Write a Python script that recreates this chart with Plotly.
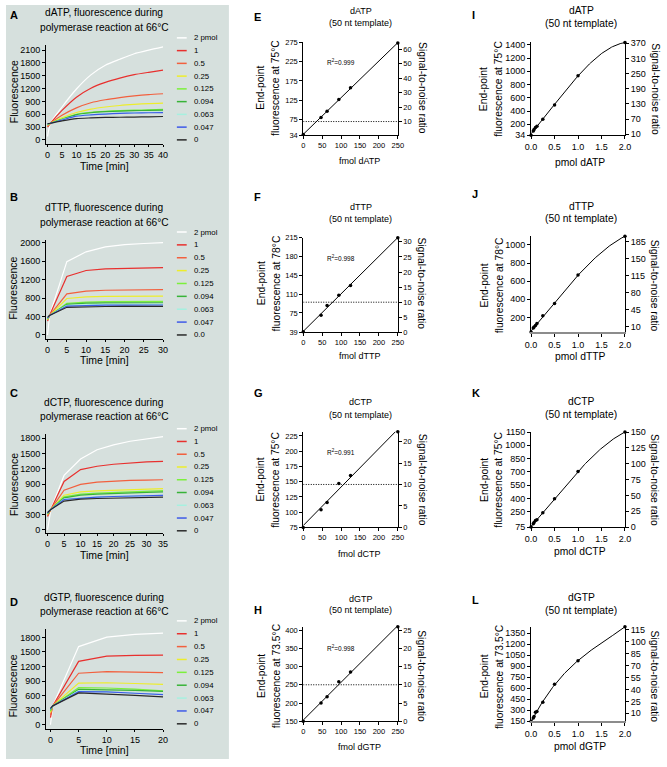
import numpy as np
import plotly.graph_objects as go

W, H = 667, 767
FONT = "Liberation Sans, Arial, sans-serif"

# ======================= DATA =======================
legend_labels_A = ["2 pmol", "1", "0.5", "0.25", "0.125", "0.094", "0.063", "0.047", "0"]
legend_labels_B = ["2 pmol", "1", "0.5", "0.25", "0.125", "0.094", "0.063", "0.047", "0.0"]

# A: dATP kinetics
time_A = [0, 1, 5, 10, 15, 20, 25, 30, 35, 40]
A_2pmol = [80, 390, 770, 1190, 1520, 1745, 1885, 2015, 2100, 2175]
A_1 = [300, 390, 690, 1000, 1210, 1345, 1445, 1525, 1580, 1630]
A_05 = [330, 390, 577, 750, 870, 940, 990, 1030, 1060, 1080]
A_025 = [340, 390, 520, 640, 720, 770, 805, 830, 850, 860]
A_0125 = [350, 390, 490, 600, 645, 670, 685, 695, 705, 712]
A_0094 = [360, 390, 480, 590, 635, 660, 675, 685, 690, 695]
A_0063 = [370, 390, 470, 560, 590, 615, 630, 640, 645, 650]
A_0047 = [375, 390, 465, 555, 585, 605, 620, 630, 635, 640]
A_0 = [380, 390, 446, 500, 515, 525, 530, 535, 540, 548]

# B: dTTP kinetics
time_B = [0, 0.5, 5, 10, 15, 20, 25, 30]
B_2pmol = [0, 420, 1587, 1800, 1907, 1957, 1980, 2000]
B_1 = [300, 420, 1267, 1395, 1430, 1445, 1452, 1459]
B_05 = [320, 420, 890, 947, 968, 975, 980, 982]
B_025 = [330, 420, 790, 826, 835, 838, 840, 840]
B_0125 = [340, 420, 683, 712, 720, 724, 726, 726]
B_0094 = [350, 420, 662, 690, 695, 697, 697, 697]
B_0063 = [360, 420, 640, 655, 660, 662, 662, 662]
B_0047 = [370, 420, 626, 640, 645, 647, 648, 648]
B_00 = [380, 420, 598, 612, 616, 618, 619, 619]

# C: dCTP kinetics
time_C = [0, 1, 5, 10, 15, 20, 25, 30, 35]
C_2pmol = [0, 400, 1069, 1392, 1574, 1671, 1742, 1794, 1833]
C_1 = [260, 400, 952, 1185, 1250, 1289, 1314, 1334, 1347]
C_05 = [280, 400, 777, 894, 939, 958, 970, 978, 984]
C_025 = [300, 400, 680, 745, 765, 777, 790, 800, 810]
C_0125 = [310, 400, 648, 700, 720, 735, 750, 760, 770]
C_0094 = [320, 400, 628, 680, 700, 715, 725, 735, 745]
C_0063 = [330, 400, 602, 630, 648, 660, 668, 675, 680]
C_0047 = [330, 400, 596, 625, 642, 655, 665, 672, 678]
C_0 = [340, 400, 564, 602, 615, 625, 632, 637, 641]

# D: dGTP kinetics
time_D = [0, 0.4, 5, 10, 15, 20]
D_2pmol = [0, 390, 1610, 1806, 1860, 1888]
D_1 = [150, 390, 1306, 1414, 1428, 1434]
D_05 = [200, 390, 1062, 1096, 1085, 1076]
D_025 = [250, 390, 860, 866, 850, 832]
D_0125 = [280, 390, 765, 758, 735, 700]
D_0094 = [300, 390, 730, 724, 707, 690]
D_0063 = [320, 390, 697, 680, 655, 629]
D_0047 = [330, 390, 683, 676, 650, 622]
D_0 = [340, 390, 656, 636, 605, 575]

# kinetic axis ticks
A_yticks = [0, 300, 600, 900, 1200, 1500, 1800, 2100]
B_yticks = [0, 400, 800, 1200, 1600, 2000]
C_yticks = [0, 300, 600, 900, 1200, 1500, 1800]
D_yticks = [0, 300, 600, 900, 1200, 1500, 1800]
A_xticks = [0, 5, 10, 15, 20, 25, 30, 35, 40]
B_xticks = [0, 5, 10, 15, 20, 25, 30]
C_xticks = [0, 5, 10, 15, 20, 25, 30, 35]
D_xticks = [0, 5, 10, 15, 20]

# E-H: end-point fluorescence vs fmol
fmol_x = [0, 47, 63, 94, 125, 250]
E_fluor = [36, 80, 96, 127, 157, 273]
F_fluor = [40, 71, 89, 108, 126, 215]
G_fluor = [75, 104, 116, 147, 160, 232]
H_fluor = [150, 200, 217, 258, 285, 409]
E_r2, F_r2, G_r2, H_r2 = "0.999", "0.998", "0.991", "0.998"
snr_threshold = 10

E_lticks = [34, 75, 125, 175, 225, 275]
E_rticks = [10, 20, 30, 40, 50, 60]
F_lticks = [39, 75, 110, 145, 180, 215]
F_rticks = [0, 5, 10, 15, 20, 25, 30]
G_lticks = [75, 100, 125, 150, 175, 200, 225]
G_rticks = [0, 5, 10, 15, 20]
H_lticks = [150, 200, 250, 300, 350, 400]
H_rticks = [0, 5, 10, 15, 20, 25]
fmol_xticks = [0, 50, 100, 150, 200, 250]

# I-L: end-point fluorescence vs pmol
pmol_x = [0, 0.047, 0.063, 0.094, 0.125, 0.25, 0.5, 1, 2]
I_fluor = [34, 100, 120, 150, 170, 275, 490, 935, 1435]
J_fluor = [39, 84, 95, 113, 135, 218, 353, 669, 1095]
K_fluor = [75, 112, 127, 150, 157, 236, 397, 705, 1150]
L_fluor = [150, 195, 213, 271, 284, 410, 652, 974, 1435]

I_lticks = [34, 200, 400, 600, 800, 1000, 1200, 1400]
I_rticks = [10, 70, 130, 190, 250, 310, 370]
J_lticks = [200, 400, 600, 800, 1000]
J_rticks = [10, 45, 80, 115, 150, 185]
K_lticks = [75, 250, 400, 550, 700, 850, 1000, 1150]
K_rticks = [0, 25, 50, 75, 100, 125, 150]
L_lticks = [150, 300, 450, 600, 750, 900, 1050, 1200, 1350]
L_rticks = [10, 25, 40, 55, 70, 85, 100, 115]
pmol_xticks = [0, 0.5, 1.0, 1.5, 2.0]

# ======================= STYLE =======================
series_colors = ["#ffffff", "#e8302e", "#f2603e", "#eded2c", "#7cf03c",
                 "#38b338", "#a6f0df", "#3e5ae8", "#2a2a2a"]
GRAY_BG = "#d6e0dd"


def xd(a, b):
    return [a / W, b / W]


def yd(top, bottom):
    return [1 - bottom / H, 1 - top / H]


def px(x):
    return x / W


def py(y):
    return 1 - y / H


def axis_style(fs, ticklen=3):
    return dict(showline=True, linecolor="black", linewidth=1, ticks="outside",
                ticklen=ticklen, tickwidth=1, tickcolor="black", showgrid=False,
                zeroline=False, mirror=False,
                tickfont=dict(size=fs, color="black", family=FONT))


fig = go.Figure()
layout = {}
annotations = []
shapes = []


def ann(x, y, text, size, angle=0, xanchor="center", bold=False, **kw):
    if bold:
        text = "<b>" + text + "</b>"
    d = dict(x=px(x), y=py(y), xref="paper", yref="paper", text=text,
             showarrow=False, textangle=angle, xanchor=xanchor, yanchor="middle",
             font=dict(size=size, color="black", family=FONT))
    d.update(kw)
    annotations.append(d)


def axname(kind, n):
    return kind + ("" if n == 1 else str(n))


# background for left column
shapes.append(dict(type="rect", xref="paper", yref="paper", x0=0, x1=px(227),
                   y0=py(764), y1=1, fillcolor=GRAY_BG, line=dict(width=0),
                   layer="below"))

# ---------------- kinetic panels ----------------
kin = [
    dict(n=1, letter="A", nuc="dATP", t=time_A,
         s=[A_2pmol, A_1, A_05, A_025, A_0125, A_0094, A_0063, A_0047, A_0],
         labels=legend_labels_A, dom=(40.7, 140.7), yr=(-92, 2215), xr=(-0.55, 40),
         yt=A_yticks, xt=A_xticks, ly=10, t1=7.3, t2=23.3, yty=88, xty=163,
         lg0=33.3, lgs=12.92, shape="spline"),
    dict(n=2, letter="B", nuc="dTTP", t=time_B,
         s=[B_2pmol, B_1, B_05, B_025, B_0125, B_0094, B_0063, B_0047, B_00],
         labels=legend_labels_B, dom=(237.7, 338.3), yr=(-85, 2064), xr=(-0.42, 30),
         yt=B_yticks, xt=B_xticks, ly=195, t1=205, t2=220, yty=287, xty=360,
         lg0=230, lgs=13.04, shape="linear"),
    dict(n=3, letter="C", nuc="dCTP", t=time_C,
         s=[C_2pmol, C_1, C_05, C_025, C_0125, C_0094, C_0063, C_0047, C_0],
         labels=legend_labels_A, dom=(435, 535.3), yr=(-70, 1878), xr=(-0.48, 35),
         yt=C_yticks, xt=C_xticks, ly=393, t1=402.7, t2=417.3, yty=486, xty=557.5,
         lg0=429.3, lgs=12.93, shape="linear"),
    dict(n=4, letter="D", nuc="dGTP", t=time_D,
         s=[D_2pmol, D_1, D_05, D_025, D_0125, D_0094, D_0063, D_0047, D_0],
         labels=legend_labels_A, dom=(632.7, 733.3), yr=(-81, 1963), xr=(-0.8, 20),
         yt=D_yticks, xt=D_xticks, ly=605, t1=600, t2=615, yty=690, xty=755,
         lg0=624, lgs=13.04, shape="linear"),
]

for p in kin:
    n = p["n"]
    for vals, col in zip(p["s"], series_colors):
        fig.add_trace(go.Scatter(x=p["t"], y=vals, mode="lines",
                                 line=dict(color=col, width=1.2, shape=p["shape"], smoothing=0.6),
                                 xaxis=axname("x", n), yaxis=axname("y", n),
                                 showlegend=False, hoverinfo="skip"))
    xa = axis_style(9, ticklen=2)
    xa.update(domain=xd(40.7, 160), range=list(p["xr"]), tickvals=p["xt"],
              anchor=axname("y", n))
    ya = axis_style(9)
    ya.update(domain=yd(*p["dom"]), range=list(p["yr"]), tickvals=p["yt"],
              anchor=axname("x", n))
    layout[axname("xaxis", n)] = xa
    layout[axname("yaxis", n)] = ya
    ann(2, p["ly"], p["letter"], 11, xanchor="left", bold=True)
    ann(100, p["t1"], p["nuc"] + ", fluorescence during", 10.2)
    ann(100, p["t2"], "polymerase reaction at 66°C", 10.2)
    ann(7.5, p["yty"], "Fluorescence", 10.5, angle=-90)
    ann(100, p["xty"], "Time [min]", 10.5)
    for i, (lab, col) in enumerate(zip(p["labels"], series_colors)):
        yy = p["lg0"] + i * p["lgs"]
        shapes.append(dict(type="line", xref="paper", yref="paper",
                           x0=px(174), x1=px(184), y0=py(yy), y1=py(yy),
                           line=dict(color=col, width=1.5)))
        ann(189, yy, lab, 7.8, xanchor="left")

# ---------------- linear calibration panels E-H ----------------
cal = [
    dict(n=5, r=13, letter="E", nuc="dATP", temp="75°C", y=E_fluor, r2=E_r2,
         dom=(37, 132), yr=(34, 277), yr2=(0.5, 65.3), lt=E_lticks, rt=E_rticks,
         ly=11.7, t1=6, t2=18.3, yc=84, xty=157.7, r2y=223),
    dict(n=6, r=14, letter="F", nuc="dTTP", temp="78°C", y=F_fluor, r2=F_r2,
         dom=(235.7, 331.7), yr=(39, 215), yr2=(0, 31.4), lt=F_lticks, rt=F_rticks,
         ly=195, t1=205, t2=216.7, yc=282, xty=355.7, r2y=178),
    dict(n=7, r=15, letter="G", nuc="dCTP", temp="75°C", y=G_fluor, r2=G_r2,
         dom=(432.3, 529.3), yr=(75, 232), yr2=(0, 22.3), lt=G_lticks, rt=G_rticks,
         ly=393.3, t1=402.7, t2=415, yc=481, xty=556.7, r2y=199),
    dict(n=8, r=16, letter="H", nuc="dGTP", temp="73.5°C", y=H_fluor, r2=H_r2,
         dom=(630, 725.7), yr=(150, 409), yr2=(0, 25.9), lt=H_lticks, rt=H_rticks,
         ly=613.3, t1=601.7, t2=613.3, yc=680, xty=751.7, r2y=351),
]

for p in cal:
    n, r = p["n"], p["r"]
    coef = np.polyfit(fmol_x, p["y"], 1)
    xf = np.array([min(fmol_x), max(fmol_x)])
    fig.add_trace(go.Scatter(x=xf, y=np.polyval(coef, xf), mode="lines",
                             line=dict(color="black", width=1),
                             xaxis=axname("x", n), yaxis=axname("y", n),
                             showlegend=False, hoverinfo="skip"))
    fig.add_trace(go.Scatter(x=fmol_x, y=p["y"], mode="markers",
                             marker=dict(color="black", size=3.5),
                             xaxis=axname("x", n), yaxis=axname("y", n),
                             cliponaxis=False, showlegend=False, hoverinfo="skip"))
    fig.add_trace(go.Scatter(x=[min(fmol_x), max(fmol_x)], y=[snr_threshold, snr_threshold],
                             mode="lines", line=dict(color="black", width=1, dash="1px,1.5px"),
                             xaxis=axname("x", n), yaxis=axname("y", r),
                             showlegend=False, hoverinfo="skip"))
    xa = axis_style(7.5)
    xa.update(domain=xd(302.7, 399), range=[0, 250], tickvals=fmol_xticks,
              anchor=axname("y", n))
    ya = axis_style(7.5)
    ya.update(domain=yd(*p["dom"]), range=list(p["yr"]), tickvals=p["lt"],
              anchor=axname("x", n))
    yr_ = axis_style(7.5)
    yr_.update(range=list(p["yr2"]), tickvals=p["rt"], overlaying=axname("y", n),
               side="right", anchor=axname("x", n))
    layout[axname("xaxis", n)] = xa
    layout[axname("yaxis", n)] = ya
    layout[axname("yaxis", r)] = yr_
    ann(250, p["ly"], p["letter"], 11, xanchor="left", bold=True)
    ann(361, p["t1"], p["nuc"], 9)
    ann(361, p["t2"], "(50 nt template)", 9)
    ann(259.5, p["yc"], "End-point", 10.3, angle=-90)
    ann(275, p["yc"], "fluorescence at " + p["temp"], 10.3, angle=-90)
    ann(423.5, p["yc"], "Signal-to-noise ratio", 10.3, angle=90)
    ann(360, p["xty"], "fmol " + p["nuc"], 9)
    annotations.append(dict(x=100, y=p["r2y"], xref=axname("x", n), yref=axname("y", n),
                            text="R<sup>2</sup>=" + p["r2"], showarrow=False,
                            font=dict(size=6.5, color="black", family=FONT)))

# ---------------- nonlinear calibration panels I-L ----------------
nl = [
    dict(n=9, r=17, letter="I", nuc="dATP", temp="75°C", y=I_fluor,
         dom=(37.7, 132), yr=(34, 1440), yr2=(6, 374), lt=I_lticks, rt=I_rticks,
         ly=10, t1=6, t2=19, yc=85, xty=159.3, xline="black", xlw=1),
    dict(n=10, r=18, letter="J", nuc="dTTP", temp="78°C", y=J_fluor,
         dom=(234.3, 331.7), yr=(36, 1095), yr2=(-2.2, 195.9), lt=J_lticks, rt=J_rticks,
         ly=192, t1=204, t2=216.7, yc=284, xty=355.7, xline="#8c8c8c", xlw=2),
    dict(n=11, r=19, letter="K", nuc="dCTP", temp="75°C", y=K_fluor,
         dom=(432.7, 529), yr=(75, 1150), yr2=(0, 150), lt=K_lticks, rt=K_rticks,
         ly=393.3, t1=401.7, t2=415, yc=481, xty=553.3, xline="black", xlw=1),
    dict(n=12, r=20, letter="L", nuc="dGTP", temp="73.5°C", y=L_fluor,
         dom=(630, 725.7), yr=(150, 1435), yr2=(0, 118.7), lt=L_lticks, rt=L_rticks,
         ly=603.3, t1=600, t2=613.3, yc=680, xty=751.7, xline="#8c8c8c", xlw=2),
]

for p in nl:
    n, r = p["n"], p["r"]
    coef = np.polyfit(pmol_x, p["y"], 3)
    xf = np.linspace(min(pmol_x), max(pmol_x), 120)
    fig.add_trace(go.Scatter(x=xf, y=np.polyval(coef, xf), mode="lines",
                             line=dict(color="black", width=1),
                             xaxis=axname("x", n), yaxis=axname("y", n),
                             showlegend=False, hoverinfo="skip"))
    fig.add_trace(go.Scatter(x=pmol_x, y=p["y"], mode="markers",
                             marker=dict(color="black", size=3.5),
                             xaxis=axname("x", n), yaxis=axname("y", n),
                             cliponaxis=False, showlegend=False, hoverinfo="skip"))
    fig.add_trace(go.Scatter(x=[], y=[], xaxis=axname("x", n), yaxis=axname("y", r),
                             showlegend=False, hoverinfo="skip"))
    xa = axis_style(9)
    xa.update(domain=xd(534.7, 630.3), range=[0, 2], tickvals=pmol_xticks,
              tickformat=".1f", anchor=axname("y", n), linecolor=p["xline"],
              linewidth=p["xlw"])
    ya = axis_style(9)
    ya.update(domain=yd(*p["dom"]), range=list(p["yr"]), tickvals=p["lt"],
              anchor=axname("x", n))
    yr_ = axis_style(9)
    yr_.update(range=list(p["yr2"]), tickvals=p["rt"], overlaying=axname("y", n),
               side="right", anchor=axname("x", n))
    layout[axname("xaxis", n)] = xa
    layout[axname("yaxis", n)] = ya
    layout[axname("yaxis", r)] = yr_
    ann(472, p["ly"], p["letter"], 11, xanchor="left", bold=True)
    ann(586, p["t1"], p["nuc"], 10.3)
    ann(586, p["t2"], "(50 nt template)", 10.3)
    ann(487, p["yc"], "End-point", 10.3, angle=-90)
    ann(502, p["yc"], "fluorescence at " + p["temp"], 10.3, angle=-90)
    ann(660.5, p["yc"], "Signal-to-noise ratio", 10.3, angle=90)
    ann(585, p["xty"], "pmol " + p["nuc"], 10.3)

fig.update_layout(width=W, height=H, margin=dict(l=0, r=0, t=0, b=0),
                  autosize=False, paper_bgcolor="white", plot_bgcolor="rgba(0,0,0,0)",
                  showlegend=False, font=dict(family=FONT, color="black"),
                  hovermode=False, dragmode=False,
                  annotations=annotations, shapes=shapes, **layout)

fig.write_html("out.html", config={"displayModeBar": False, "staticPlot": True},
               post_script="document.body.style.margin='0px';document.body.style.padding='0px';")
